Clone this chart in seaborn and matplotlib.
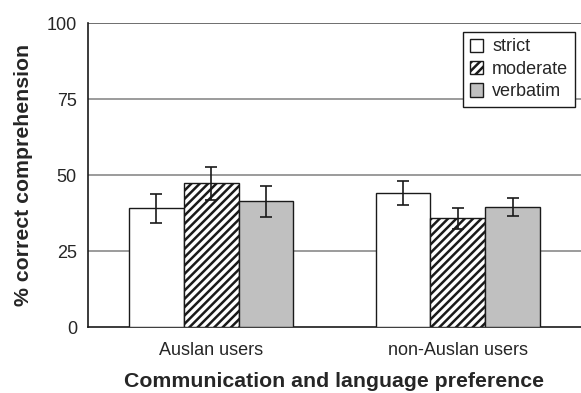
import numpy as np
import pandas as pd
import seaborn as sns
import matplotlib
matplotlib.use("Agg")
import matplotlib.pyplot as plt
from matplotlib.patches import Patch

# Mean comprehension scores and error bar half-widths per group and condition
groups = ["Auslan users", "non-Auslan users"]
conditions = ["strict", "moderate", "verbatim"]
auslan_means = [39.0, 47.3, 41.3]
non_auslan_means = [44.0, 35.7, 39.5]
auslan_err = [4.8, 5.4, 5.0]
non_auslan_err = [3.9, 3.3, 3.0]
y_ticks = [0, 25, 50, 75, 100]

df = pd.DataFrame({
    "group": np.repeat(groups, len(conditions)),
    "condition": conditions * len(groups),
    "score": auslan_means + non_auslan_means,
    "err": auslan_err + non_auslan_err,
})

sns.set_theme(style="white")
plt.rcParams["font.family"] = ["Liberation Sans", "DejaVu Sans"]
plt.rcParams["hatch.linewidth"] = 1.8
plt.rcParams["hatch.color"] = "black"

fills = {"strict": "white", "moderate": "white", "verbatim": "#c0c0c0"}
hatches = {"strict": "", "moderate": "////", "verbatim": ""}

fig = plt.figure(figsize=(5.81, 3.93), dpi=100)
ax = fig.add_axes([88 / 581, 1 - 327 / 393, (581 - 88) / 581, (327 - 23) / 393])

sns.barplot(data=df, x="group", y="score", hue="condition", order=groups,
            hue_order=conditions, palette=fills, errorbar=None, width=0.667,
            edgecolor="#1a1a1a", linewidth=1.0, legend=False, ax=ax, zorder=3)

# Style the bars per condition and attach the error bars
for cond, cont in zip(conditions, ax.containers):
    sub = df[df["condition"] == cond].set_index("group").loc[groups]
    xs = []
    for bar in cont:
        bar.set_hatch(hatches[cond])
        xs.append(bar.get_x() + bar.get_width() / 2)
    ax.errorbar(xs, sub["score"].values, yerr=sub["err"].values, fmt="none",
                ecolor="#1a1a1a", elinewidth=1.2, capsize=4, capthick=1.2, zorder=4)

ax.set_ylim(0, 100)
ax.set_xlim(-0.5, 1.5)
ax.set_yticks(y_ticks)
ax.set_yticklabels([str(t) for t in y_ticks], fontsize=13)
ax.set_xticks([0, 1])
ax.set_xticklabels(groups, fontsize=13)
ax.tick_params(axis="x", length=0, pad=11)
ax.set_xticks([-0.5, 0.5], minor=True)
ax.tick_params(axis="x", which="minor", length=5, width=1.2, color="#1a1a1a", direction="out")
ax.tick_params(axis="y", length=6, width=1.2, color="#1a1a1a", direction="out", pad=2)
for t in y_ticks[1:]:
    ax.axhline(t, color="#8a8a8a" if t < 100 else "#555555", lw=1.2, zorder=1)

for side in ["top", "right"]:
    ax.spines[side].set_visible(False)
for side in ["left", "bottom"]:
    ax.spines[side].set_color("#1a1a1a")
    ax.spines[side].set_linewidth(1.2)

ax.set_ylabel("% correct comprehension", fontsize=15.3, fontweight="bold", labelpad=10)
ax.set_xlabel("Communication and language preference", fontsize=15.3, fontweight="bold", labelpad=9.5)

handles = [Patch(facecolor=fills[c], edgecolor="#1a1a1a", hatch=hatches[c], label=c)
           for c in conditions]
leg = ax.legend(handles=handles, loc="upper right", bbox_to_anchor=(0.987, 0.97),
                fontsize=13, frameon=True, fancybox=False, framealpha=1,
                handlelength=0.75, handleheight=0.75, handletextpad=0.5,
                labelspacing=0.3, borderpad=0.35, borderaxespad=0)
leg.get_frame().set_edgecolor("#1a1a1a")
leg.get_frame().set_linewidth(1.0)

fig.savefig("out.png", dpi=100)
